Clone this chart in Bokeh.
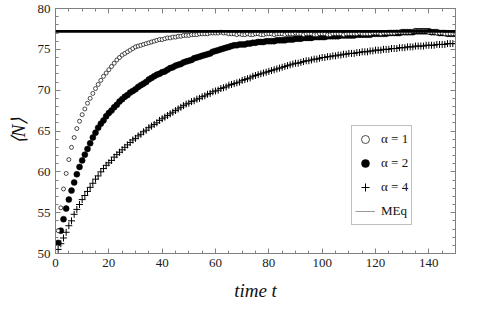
from bokeh.plotting import figure
from bokeh.models import (SingleIntervalTicker, LinearAxis, Legend, LegendItem,
                          Span, Range1d, ColumnDataSource, CustomJSTickFormatter)
from bokeh.embed import file_html
from bokeh.resources import INLINE

# ---------------- data ----------------
time_t = list(range(1, 151))

alpha1 = [
    52.8, 55.6, 57.9, 59.8, 61.5, 63.0, 64.2, 65.3, 66.2, 67.0,
    67.7, 68.4, 69.0, 69.6, 70.2, 70.7, 71.2, 71.7, 72.1, 72.5,
    72.9, 73.3, 73.7, 74.0, 74.3, 74.5, 74.7, 74.9, 75.1, 75.3,
    75.4, 75.5, 75.6, 75.7, 75.8, 75.9, 76.0, 76.1, 76.2, 76.2,
    76.3, 76.4, 76.4, 76.5, 76.5, 76.6, 76.6, 76.7, 76.7, 76.7,
    76.8, 76.8, 76.8, 76.9, 76.9, 76.9, 76.9, 77.0, 77.0, 77.0,
    77.0, 77.1, 77.0, 77.0, 76.9, 76.9, 76.9, 76.8, 76.9, 76.8,
    76.8, 76.9, 76.8, 76.8, 76.9, 76.9, 76.8, 76.8, 76.9, 76.9,
    76.9, 76.8, 76.9, 76.9, 76.9, 76.8, 76.9, 76.9, 76.9, 77.0,
    76.9, 76.9, 76.8, 76.9, 76.9, 76.9, 76.8, 76.8, 76.9, 76.9,
    76.9, 76.8, 76.8, 76.9, 76.9, 76.9, 76.9, 76.8, 76.9, 76.9,
    76.9, 76.9, 76.9, 77.0, 76.9, 76.9, 76.9, 76.9, 77.0, 77.0,
    77.0, 76.9, 77.0, 77.0, 77.0, 77.0, 77.0, 77.1, 77.1, 77.1,
    77.1, 77.1, 77.1, 77.2, 77.2, 77.2, 77.2, 77.2, 77.2, 77.1,
    77.1, 77.1, 77.0, 77.0, 77.0, 76.9, 76.9, 76.9, 76.9, 76.9,
]

alpha2 = [
    51.3, 52.8, 54.2, 55.5, 56.6, 57.7, 58.7, 59.7, 60.6, 61.4,
    62.1, 62.8, 63.5, 64.2, 64.8, 65.4, 65.9, 66.3, 66.8, 67.2,
    67.5, 67.9, 68.2, 68.6, 68.9, 69.2, 69.4, 69.7, 69.9, 70.1,
    70.4, 70.6, 70.8, 71.0, 71.3, 71.5, 71.7, 71.9, 72.0, 72.2,
    72.3, 72.5, 72.7, 72.8, 73.0, 73.1, 73.2, 73.4, 73.5, 73.6,
    73.7, 73.9, 74.0, 74.1, 74.2, 74.3, 74.4, 74.5, 74.7, 74.8,
    74.9, 75.0, 75.1, 75.2, 75.3, 75.4, 75.5, 75.5, 75.6, 75.6,
    75.6, 75.7, 75.7, 75.8, 75.8, 75.9, 75.9, 75.9, 76.0, 76.0,
    76.0, 76.0, 76.1, 76.1, 76.1, 76.1, 76.2, 76.2, 76.2, 76.3,
    76.3, 76.3, 76.4, 76.4, 76.4, 76.4, 76.5, 76.5, 76.5, 76.5,
    76.5, 76.6, 76.6, 76.6, 76.6, 76.6, 76.7, 76.7, 76.7, 76.7,
    76.7, 76.7, 76.8, 76.8, 76.8, 76.8, 76.8, 76.8, 76.9, 76.9,
    76.9, 76.9, 76.9, 76.9, 77.0, 77.0, 77.0, 77.0, 77.0, 77.1,
    77.1, 77.1, 77.1, 77.1, 77.2, 77.2, 77.2, 77.2, 77.2, 77.2,
    77.1, 77.1, 77.1, 77.0, 77.0, 77.0, 76.9, 76.9, 76.9, 76.9,
]

alpha4 = [
    50.5, 51.2, 51.9, 52.6, 53.4, 54.0, 54.8, 55.4, 56.0, 56.6,
    57.1, 57.6, 58.1, 58.6, 59.1, 59.5, 60.0, 60.4, 60.8, 61.1,
    61.4, 61.8, 62.1, 62.4, 62.7, 63.0, 63.3, 63.6, 63.9, 64.1,
    64.4, 64.6, 64.9, 65.1, 65.4, 65.6, 65.8, 66.0, 66.3, 66.5,
    66.7, 66.9, 67.1, 67.3, 67.5, 67.7, 67.9, 68.1, 68.3, 68.4,
    68.6, 68.7, 68.9, 69.0, 69.2, 69.3, 69.5, 69.6, 69.8, 69.9,
    70.0, 70.2, 70.3, 70.4, 70.6, 70.7, 70.8, 70.9, 71.0, 71.2,
    71.3, 71.4, 71.5, 71.7, 71.8, 71.9, 72.0, 72.1, 72.2, 72.3,
    72.4, 72.5, 72.6, 72.7, 72.8, 72.9, 73.0, 73.1, 73.2, 73.3,
    73.3, 73.4, 73.5, 73.6, 73.6, 73.7, 73.8, 73.8, 73.9, 74.0,
    74.0, 74.1, 74.1, 74.2, 74.2, 74.3, 74.3, 74.4, 74.4, 74.5,
    74.5, 74.5, 74.6, 74.6, 74.7, 74.7, 74.7, 74.8, 74.8, 74.9,
    74.9, 74.9, 75.0, 75.0, 75.0, 75.1, 75.1, 75.1, 75.2, 75.2,
    75.2, 75.3, 75.3, 75.3, 75.4, 75.4, 75.4, 75.4, 75.5, 75.5,
    75.5, 75.5, 75.6, 75.6, 75.6, 75.6, 75.7, 75.7, 75.7, 75.7,
]

meq_level = 77.2
x_limits = [0, 150]
y_limits = [50, 80]

series_labels = ["α = 1", "α = 2", "α = 4", "MEq"]
x_ticks_interval = 20
y_ticks_interval = 5

# ---------------- figure ----------------
SERIF = "Liberation Serif"
FRAME = "#808080"

p = figure(width=490, height=303, output_backend="svg", toolbar_location=None,
           x_range=Range1d(*x_limits), y_range=Range1d(*y_limits),
           min_border_left=55, min_border_right=35, min_border_top=8,
           min_border_bottom=50)
p.xgrid.visible = False
p.ygrid.visible = False
p.outline_line_color = FRAME
p.outline_line_width = 1
p.background_fill_color = "white"
p.border_fill_color = "white"


def style_axis(ax, interval, minor, show_labels=True):
    ax.ticker = SingleIntervalTicker(interval=interval, num_minor_ticks=minor)
    ax.axis_line_color = FRAME
    ax.major_tick_line_color = FRAME
    ax.minor_tick_line_color = FRAME
    ax.major_tick_in = 5
    ax.major_tick_out = 0
    ax.minor_tick_in = 3
    ax.minor_tick_out = 0
    ax.major_label_text_font = SERIF
    ax.major_label_text_color = "#1a1a1a"
    if show_labels:
        ax.major_label_text_font_size = "13px"
        ax.major_label_standoff = 5
    else:
        ax.formatter = CustomJSTickFormatter(code="return ''")
        ax.major_label_text_font_size = "1px"
        ax.major_label_standoff = 0


style_axis(p.xaxis[0], x_ticks_interval, 4)
style_axis(p.yaxis[0], y_ticks_interval, 5)

p.xaxis.axis_label = "time t"
p.xaxis.axis_label_text_font = SERIF
p.xaxis.axis_label_text_font_size = "19px"
p.xaxis.axis_label_text_font_style = "italic"
p.xaxis.axis_label_standoff = 10
p.xaxis.axis_label_text_color = "#111111"

p.yaxis.axis_label = "⟨N⟩"
p.yaxis.axis_label_text_font = SERIF
p.yaxis.axis_label_text_font_size = "19px"
p.yaxis.axis_label_text_font_style = "italic"
p.yaxis.axis_label_standoff = 6
p.yaxis.axis_label_text_color = "#111111"

top_ax = LinearAxis()
style_axis(top_ax, x_ticks_interval, 4, show_labels=False)
p.add_layout(top_ax, "above")
right_ax = LinearAxis()
style_axis(right_ax, y_ticks_interval, 5, show_labels=False)
p.add_layout(right_ax, "right")

# legend proxy for MEq (thin grey, hidden under the thick level line)
r_meq = p.line(x=x_limits, y=[meq_level, meq_level], line_color="#9a9a9a",
               line_width=1)
# MEq level line
p.add_layout(Span(location=meq_level, dimension="width", line_color="black",
                  line_width=2.6))

src = ColumnDataSource(dict(t=time_t, a1=alpha1, a2=alpha2, a4=alpha4))

r4 = p.scatter("t", "a4", source=src, marker="cross", size=7,
               line_color="black", line_width=1)
r2 = p.scatter("t", "a2", source=src, marker="circle", size=6,
               fill_color="black", line_color="black", line_width=0.5)
r1 = p.scatter("t", "a1", source=src, marker="circle", size=4,
               fill_color="white", line_color="black", line_width=0.7)

legend = Legend(items=[
    LegendItem(label=series_labels[0], renderers=[r1]),
    LegendItem(label=series_labels[1], renderers=[r2]),
    LegendItem(label=series_labels[2], renderers=[r4]),
    LegendItem(label=series_labels[3], renderers=[r_meq]),
], location=(296, 28))
legend.label_text_font = SERIF
legend.label_text_font_size = "13px"
legend.label_text_color = "#111111"
legend.glyph_width = 20
legend.glyph_height = 20
legend.label_height = 20
legend.spacing = 4
legend.padding = 3
legend.margin = 0
legend.label_standoff = 6
legend.border_line_color = FRAME
legend.border_line_width = 1
legend.background_fill_color = "white"
legend.background_fill_alpha = 1
p.add_layout(legend, "center")

open("out.html", "w").write(file_html(p, INLINE))
